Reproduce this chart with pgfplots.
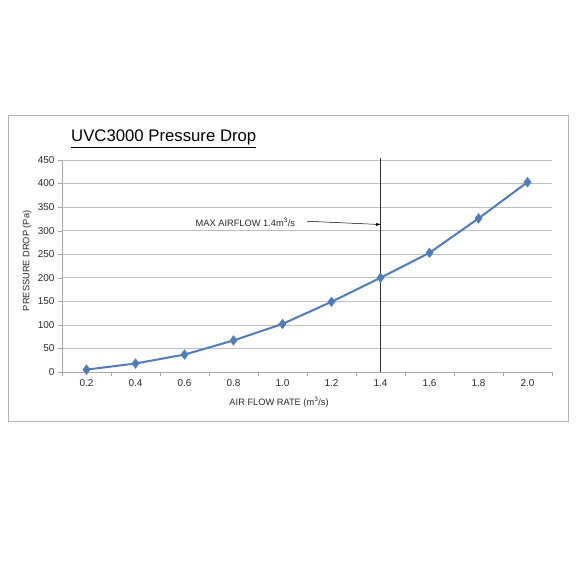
\documentclass[border=0pt]{standalone}
\usepackage{pgfplots}
\pgfplotsset{compat=1.18}
\usepackage{fontspec}
\setmainfont{Liberation Sans}
\definecolor{lineblue}{RGB}{79,125,185}
\definecolor{gridgray}{RGB}{190,190,190}
\definecolor{txt}{RGB}{40,40,40}
\begin{document}
\begin{tikzpicture}[x=1bp,y=1bp]
\path[fill=white] (0,0) rectangle (576,576);
\draw[gray!60, line width=0.8bp, fill=white] (8,155) rectangle (568,461);
\node[font=\fontsize{16.8}{19}\selectfont, anchor=base west, text=black, inner sep=0pt] at (71,434) {\underline{UVC3000 Pressure Drop}};
\begin{axis}[
  at={(62bp,204bp)}, anchor=south west,
  scale only axis, width=490bp, height=212bp,
  xmin=0.1, xmax=2.1, ymin=0, ymax=450,
  xtick={0.2,0.4,0.6,0.8,1.0,1.2,1.4,1.6,1.8,2.0},
  xticklabels={0.2,0.4,0.6,0.8,1.0,1.2,1.4,1.6,1.8,2.0},
  minor xtick={0.1,0.3,0.5,0.7,0.9,1.1,1.3,1.5,1.7,1.9,2.1},
  ytick={0,50,...,450},
  major x tick style={draw=none},
  minor x tick style={draw=gray!70},
  minor tick length=4bp,
  major tick length=4bp,
  tick align=outside,
  ytick style={draw=gray!70},
  ymajorgrids, grid style={gridgray, line width=0.6bp},
  axis line style={draw=none},
  axis x line*=bottom, axis y line*=left,
  x axis line style={draw=gray!70},
  y axis line style={draw=gray!70},
  tick label style={font=\fontsize{10}{11}\selectfont, text=txt},
  /pgf/number format/assume math mode=true,
  xlabel={AIR FLOW RATE (m\textsuperscript{3}/s)},
  ylabel={PRESSURE DROP (Pa)},
  label style={font=\fontsize{9.3}{10}\selectfont, text=txt},
  xlabel style={at={(axis cs:0.986,0)}, anchor=center, yshift=-30bp},
  ylabel style={at={(axis cs:0.1,236)}, anchor=center, yshift=35bp},
  clip=false,
]
\addplot[black!80, line width=0.5bp, forget plot] coordinates {(1.4,0) (1.4,455)};
\addplot[lineblue, line width=2bp, mark=diamond*, mark size=3.6bp, mark options={fill=lineblue}] coordinates {
(0.2,5) (0.4,18) (0.6,37) (0.8,67) (1.0,102) (1.2,149) (1.4,200) (1.6,253) (1.8,326) (2.0,403)
};
\node[font=\fontsize{9.3}{10}\selectfont, text=txt, anchor=west, inner sep=0pt] at (axis cs:0.645,318) {MAX AIRFLOW 1.4m\textsuperscript{3}/s};
\draw[-latex, black, line width=0.5bp] (axis cs:1.1,320) -- (axis cs:1.4,313);
\end{axis}
\end{tikzpicture}
\end{document}
